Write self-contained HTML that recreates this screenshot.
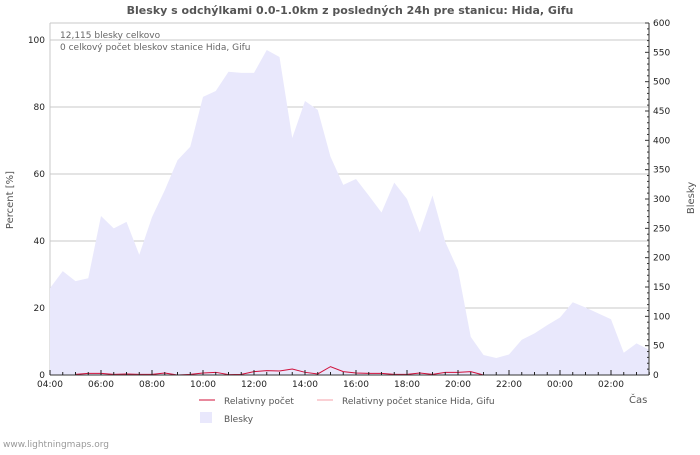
<!DOCTYPE html>
<html><head><meta charset="utf-8">
<style>
body{margin:0;background:#fff;width:700px;height:450px;overflow:hidden;font-family:"Liberation Sans","DejaVu Sans",sans-serif;}
svg text{font-family:"DejaVu Sans","Liberation Sans",sans-serif;}
</style></head>
<body>
<svg id="chart" width="700" height="450" xmlns="http://www.w3.org/2000/svg">
<text x="350" y="14" text-anchor="middle" font-size="11" font-weight="bold" fill="#555">Blesky s odchýlkami 0.0-1.0km z posledných 24h pre stanicu: Hida, Gifu</text>
<g id="grid"></g>
<g id="area"></g>
<g id="lines"></g>
<g id="axes"></g>
<text x="60" y="38" font-size="9" fill="#666">12,115 blesky celkovo</text>
<text x="60" y="50" font-size="9" fill="#666">0 celkový počet bleskov stanice Hida, Gifu</text>
<text transform="translate(13,200) rotate(-90)" text-anchor="middle" font-size="10" fill="#555">Percent   [%]</text>
<text transform="translate(694,198) rotate(-90)" text-anchor="middle" font-size="10" fill="#555">Blesky</text>
<text x="629" y="403" font-size="10" fill="#555">Čas</text>
<g>
<line x1="199" y1="400" x2="215" y2="400" stroke="#d0103a" stroke-width="1"/>
<text x="224" y="404" font-size="9" fill="#555">Relativny počet</text>
<line x1="317" y1="400" x2="333" y2="400" stroke="#f4a0a8" stroke-width="1"/>
<text x="342" y="404" font-size="9" fill="#555">Relativny počet stanice Hida, Gifu</text>
<rect x="200" y="412" width="12" height="11" fill="#e9e8fc"/>
<text x="224" y="422" font-size="9" fill="#555">Blesky</text>
</g>
<text x="3" y="447" font-size="9" fill="#999">www.lightningmaps.org</text>
</svg>
<script>
const blesky = [148,177,160,165,271,250,261,205,269,315,366,389,474,484,517,515,515,554,542,404,467,452,372,324,334,306,277,328,300,243,306,227,179,65,34,29,35,60,71,85,98,124,115,105,95,38,54,43];
const relative = [null,null,0.2,0.5,0.5,0.2,0.3,0.2,0.2,0.6,0,0.2,0.6,0.8,0.1,0.2,1.0,1.3,1.2,1.8,0.8,0.3,2.5,1.0,0.6,0.5,0.5,0.2,0.2,0.6,0.2,0.8,0.8,1.0,0,null,null,null,null,null,null,null,null,null,null,null,null,null];
const leftTicks = [0,20,40,60,80,100];
const rightTicks = [0,50,100,150,200,250,300,350,400,450,500,550,600];
const xLabels = ["04:00","06:00","08:00","10:00","12:00","14:00","16:00","18:00","20:00","22:00","00:00","02:00"];

const NS="http://www.w3.org/2000/svg";
const X0=50, X1=649, Y0=375, YT=23, STEP=12.75;
const xi=i=>X0+i*STEP;
const yL=v=>Y0-v*(Y0-40)/100;
const yR=v=>Y0-v*(Y0-YT)/600;
function mk(tag,attrs,parent){const e=document.createElementNS(NS,tag);for(const k in attrs)e.setAttribute(k,attrs[k]);parent.appendChild(e);return e;}
const grid=document.getElementById('grid'),axes=document.getElementById('axes'),area=document.getElementById('area'),lines=document.getElementById('lines');

leftTicks.forEach(v=>{
  if(v>0){const g=mk('line',{x1:X0,x2:X1,y1:yL(v),y2:yL(v),stroke:'#c8c8c8','stroke-width':1},grid);
  
  }
  const t=mk('text',{x:X0-5,y:yL(v)+3,'text-anchor':'end','font-size':9,fill:'#222'},axes);
  t.textContent=v;
  
  
});
mk('line',{x1:X0,x2:X1,y1:YT,y2:YT,stroke:'#c8c8c8'},grid);
mk('line',{x1:X0,x2:X0,y1:YT,y2:Y0,stroke:'#c8c8c8'},grid);

let d='M'+xi(0)+','+Y0;
blesky.forEach((v,i)=>{d+=' L'+xi(i)+','+yR(v);});
d+=' L'+xi(blesky.length-1)+','+Y0+' Z';
const ap=mk('path',{d:d,fill:'#e9e8fc',stroke:'none'},area);



let ld='',pen=false;
relative.forEach((v,i)=>{if(v===null){pen=false;return;}ld+=(pen?' L':' M')+xi(i)+','+yL(v);pen=true;});
const rp=mk('path',{d:ld,fill:'none',stroke:'#d0103a','stroke-width':1},lines);



// right axis
mk('line',{x1:X1,x2:X1,y1:YT,y2:Y0,stroke:'#333'},axes);
for(let v=0;v<=600;v+=10){mk('line',{x1:X1,x2:X1-(v%50===0?4:2),y1:yR(v),y2:yR(v),stroke:'#333'},axes);}
rightTicks.forEach(v=>{
  const t=mk('text',{x:X1+4,y:yR(v)+3,'font-size':9,fill:'#222'},axes);
  t.textContent=v;
  
  
});
// x axis
mk('line',{x1:X0,x2:X1,y1:Y0,y2:Y0,stroke:'#333'},axes);
for(let i=0;i<48;i++){mk('line',{x1:xi(i),x2:xi(i),y1:Y0,y2:Y0-(i%4===0?5:3),stroke:'#222'},axes);}
xLabels.forEach((s,k)=>{
  const t=mk('text',{x:xi(k*4),y:Y0+12,'text-anchor':'middle','font-size':9,fill:'#222'},axes);
  t.textContent=s;
  
  
});
</script>
</body></html>
